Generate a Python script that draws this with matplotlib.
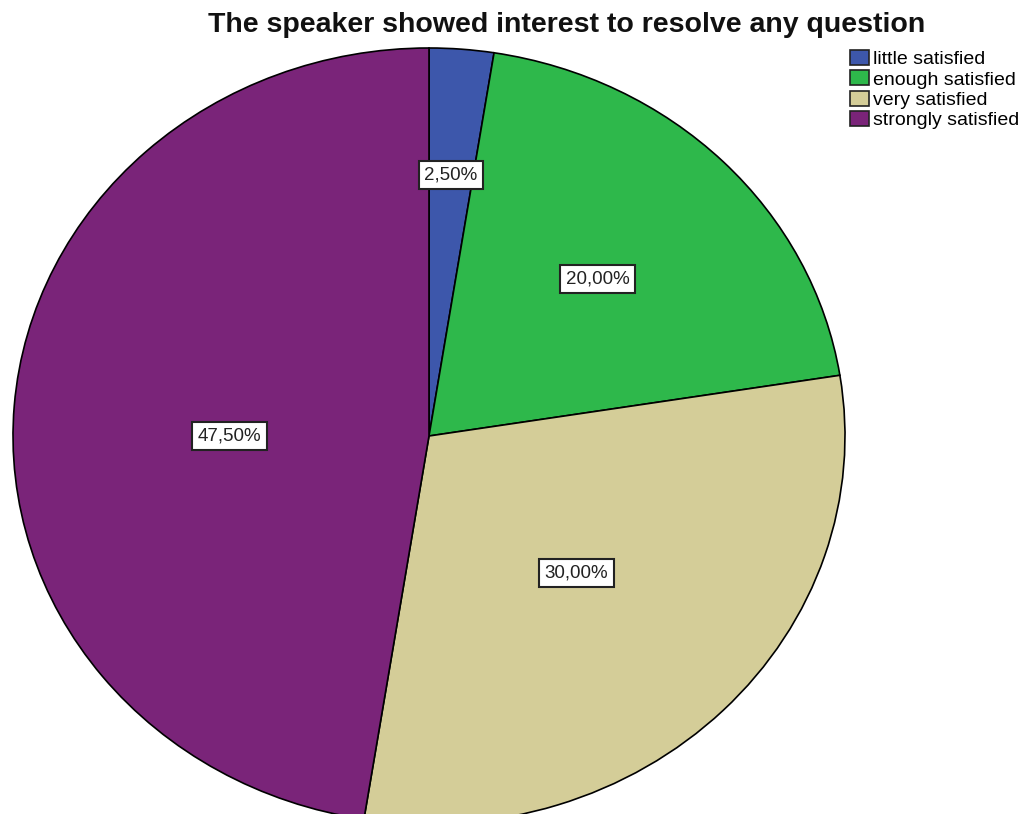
import matplotlib
matplotlib.use('Agg')
import matplotlib.pyplot as plt
from matplotlib.patches import Patch
import numpy as np

plt.rcParams['font.family'] = ['Liberation Sans', 'DejaVu Sans']

# data
categories = ['little satisfied', 'enough satisfied', 'very satisfied', 'strongly satisfied']
percents = [2.5, 20.0, 30.0, 47.5]
colors = ['#3d57ab', '#2eb84b', '#d4cd98', '#7a2479']
label_dist = [0.675, 0.573, 0.50, 0.48]
label_dy = [0, 0, 0, -0.038]

W, H = 1027, 814
# pie is drawn stretched (ellipse), as in the original export
cx, cy, rx, ry = 429, 436, 416, 388

fig = plt.figure(figsize=(W / 100, H / 100), dpi=100)
ax = fig.add_axes([0, 0, 1, 1])

wedges, texts, autotexts = ax.pie(percents, colors=colors, startangle=90, counterclock=False,
                                  radius=1, autopct=lambda p: ('%.2f%%' % p).replace('.', ','),
                                  wedgeprops=dict(edgecolor='black', linewidth=1.2),
                                  textprops=dict(fontsize=13.5, color='#222222'), frame=True)
ax.set_aspect('auto')
ax.set_xlim(-cx / rx, (W - cx) / rx)
ax.set_ylim(-(H - cy) / ry, cy / ry)
ax.axis('off')

for w, t, d, dy in zip(wedges, autotexts, label_dist, label_dy):
    ang = np.deg2rad((w.theta1 + w.theta2) / 2)
    t.set_position((d * np.cos(ang), d * np.sin(ang) + dy))
    t.set_bbox(dict(facecolor='white', edgecolor='#222222', linewidth=1.5, pad=0.3, boxstyle='square'))

fig.text(567 / W, 1 - 12 / H, 'The speaker showed interest to resolve any question',
         ha='center', va='top', fontsize=20.5, fontweight='bold', color='#111111')

handles = [Patch(facecolor=c, edgecolor='#222222', linewidth=1.2, label=l) for c, l in zip(colors, categories)]
fig.legend(handles=handles, loc='upper left', bbox_to_anchor=(850 / W, 1 - 50 / H),
           frameon=False, fontsize=14, handlelength=1.0, handleheight=0.82,
           handletextpad=0.2, labelspacing=0.1, borderaxespad=0, borderpad=0)

fig.savefig('out.png', dpi=100)
